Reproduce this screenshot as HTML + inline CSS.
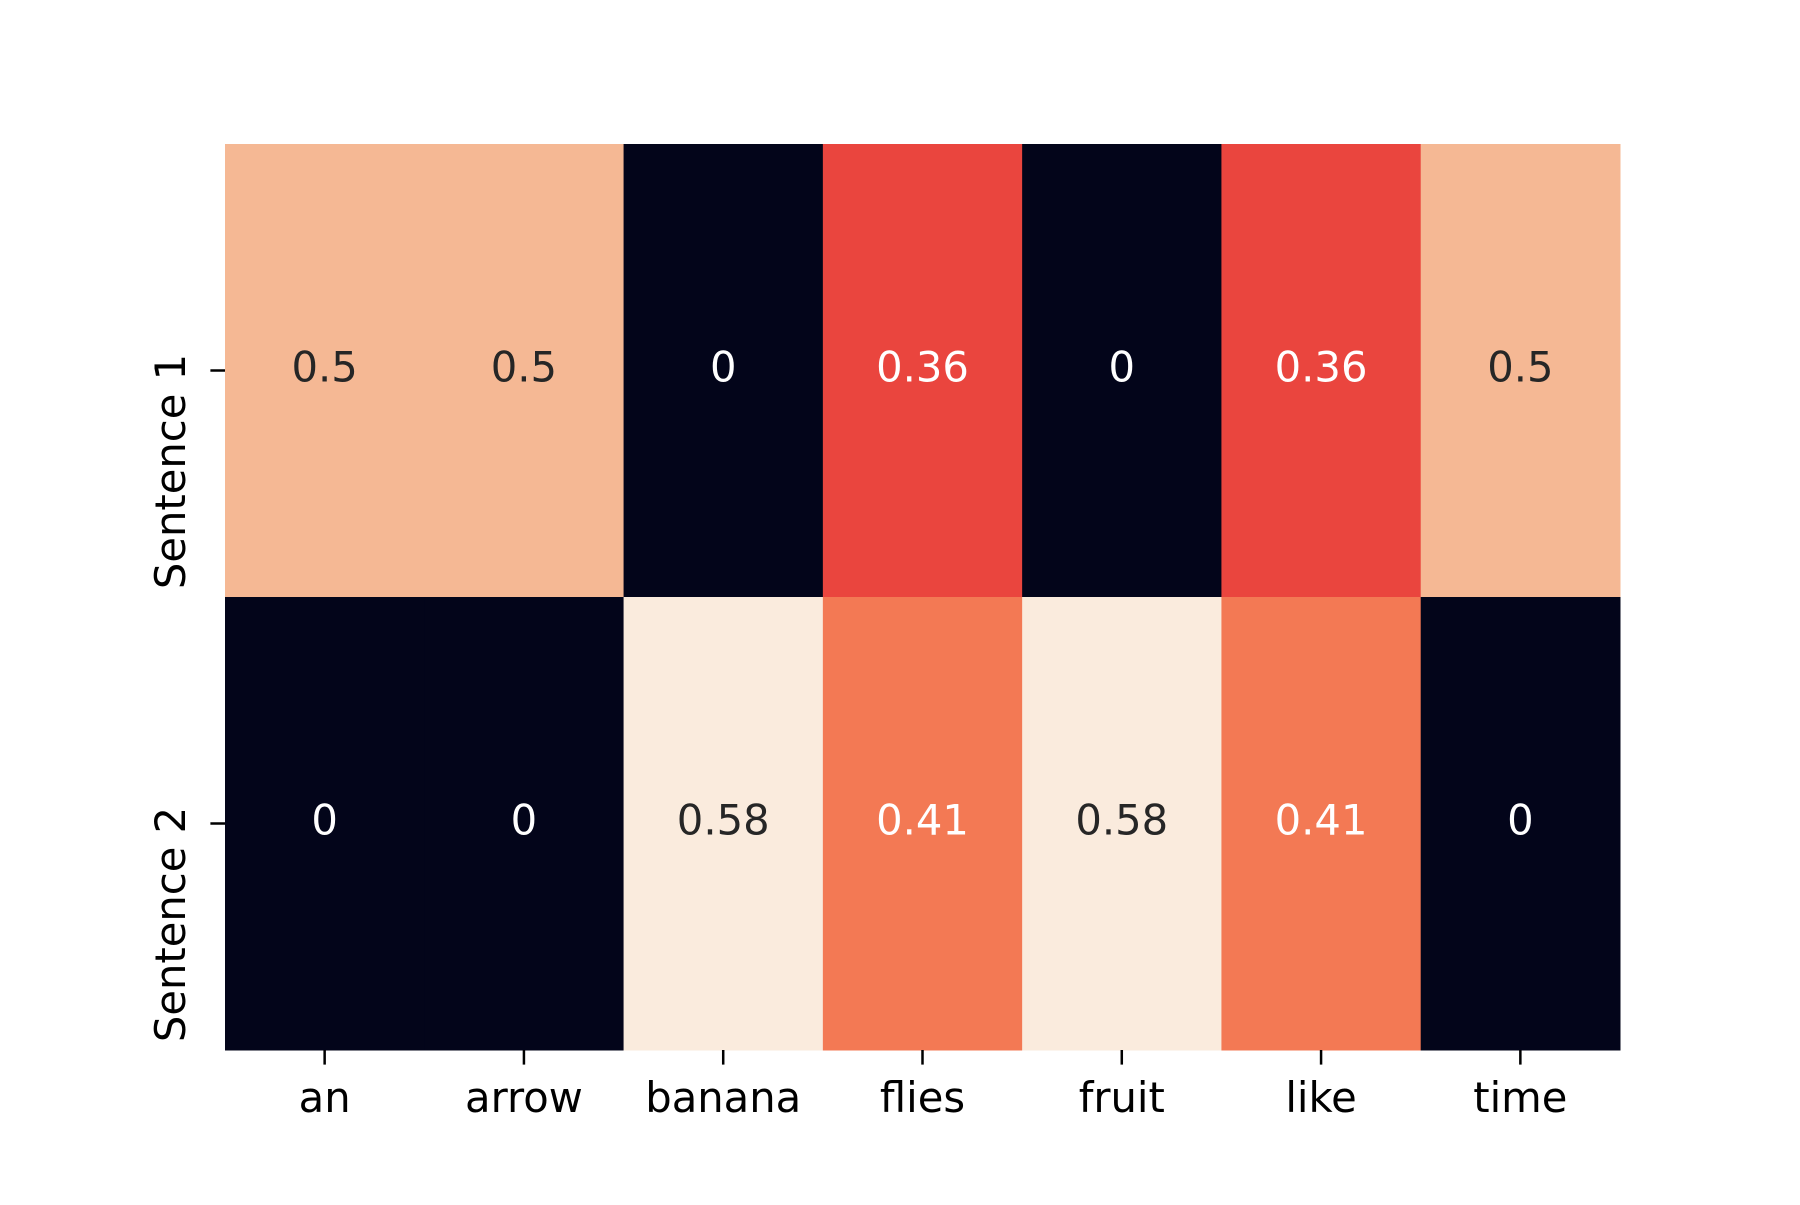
<!DOCTYPE html>
<html><head><meta charset="utf-8"><style>
html,body{margin:0;padding:0;background:#fff}
svg text{font-family:"DejaVu Sans","Liberation Sans",sans-serif}
</style></head><body>
<svg id="chart" width="1800" height="1200" xmlns="http://www.w3.org/2000/svg">
<rect width="1800" height="1200" fill="#fff"/>
<g id="cells"></g><g id="xt"></g><g id="yt"></g>
</svg>
<script>
const columns = ["an","arrow","banana","flies","fruit","like","time"];
const rows = ["Sentence 1","Sentence 2"];
const row1 = [0.5,0.5,0,0.36,0,0.36,0.5];
const row2 = [0,0,0.58,0.41,0.58,0.41,0];
const labels1 = ["0.5","0.5","0","0.36","0","0.36","0.5"];
const labels2 = ["0","0","0.58","0.41","0.58","0.41","0"];
const values = [row1,row2];
const printed = [labels1,labels2];
const L=225,R=1620,T=144,B=1050;
const cw=(R-L)/columns.length, rh=(B-T)/rows.length;
const x=i=>L+i*cw, y=j=>T+j*rh;
const vmax=Math.max(...row1,...row2);
const stops=[[0,[3,5,26]],[0.1,[40,16,54]],[0.2,[76,29,75]],[0.3,[114,31,87]],[0.4,[158,27,89]],[0.5,[203,27,79]],[0.6,[233,64,64]],[0.62,[234,69,62]],[0.7,[243,118,81]],[0.8,[246,165,123]],[0.86,[245,183,147]],[0.9,[247,201,170]],[1,[250,235,221]]];
function cmap(v){let t=v/vmax;for(let k=1;k<stops.length;k++){if(t<=stops[k][0]){const a=stops[k-1],b=stops[k];const f=(t-a[0])/(b[0]-a[0]);return `rgb(${a[1].map((c,i)=>Math.round(c+f*(b[1][i]-c))).join(',')})`;}}return 'rgb(250,235,221)';}
const NS="http://www.w3.org/2000/svg";
const cells=document.getElementById('cells'),xt=document.getElementById('xt'),yt=document.getElementById('yt');
function mk(tag,attrs,parent){const e=document.createElementNS(NS,tag);for(const k in attrs)e.setAttribute(k,attrs[k]);parent.appendChild(e);return e;}
values.forEach((r,j)=>r.forEach((v,i)=>{
  const c=mk('rect',{x:x(i),y:y(j),width:cw+0.5,height:rh+0.5,fill:cmap(v)},cells);
  
  
  const t=mk('text',{x:x(i)+cw/2,y:y(j)+rh/2+11,'text-anchor':'middle','font-size':41.7,fill:(v/vmax<0.8?'#fff':'#262626')},cells);
  t.textContent=printed[j][i];
  
  
}));
columns.forEach((c,i)=>{
  const cx=x(i)+cw/2;
  const tk=mk('line',{x1:cx,x2:cx,y1:B,y2:B+14.6,stroke:'#000','stroke-width':2.5},xt);
  
  
  const t=mk('text',{x:cx,y:B+62,'text-anchor':'middle','font-size':41.7,fill:'#000'},xt);
  t.textContent=c;
  
  
});
rows.forEach((r,j)=>{
  const cy=y(j)+rh/2;
  const tk=mk('line',{x1:L-14.6,x2:L,y1:cy,y2:cy,stroke:'#000','stroke-width':2.5},yt);
  
  
  const t=mk('text',{x:0,y:0,'text-anchor':'middle','font-size':41.7,fill:'#000',transform:`translate(${L-40},${cy+101}) rotate(-90)`},yt);
  t.textContent=r;
  
  
});
</script>
</body></html>
